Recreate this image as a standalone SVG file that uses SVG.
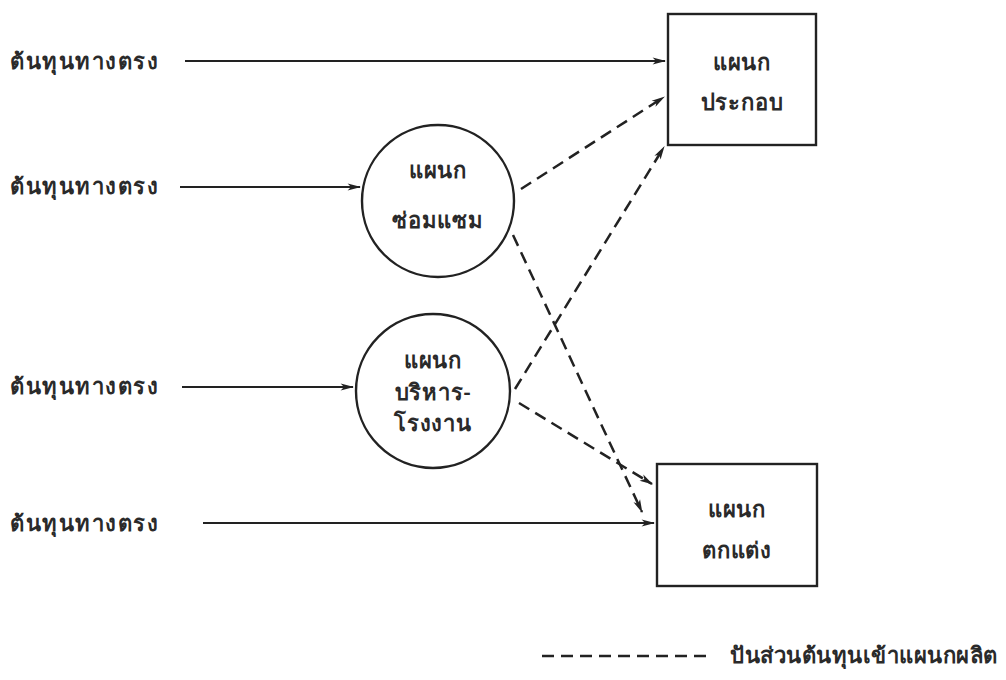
<svg xmlns="http://www.w3.org/2000/svg" width="1006" height="680" viewBox="0 0 1006 680">
  <style>
    .lbl { font-family: "Noto Sans", "Liberation Sans", sans-serif; font-size: 22px; font-weight: bold; letter-spacing: 1.5px; fill: #2a2a2a; }
    .legend-text { font-family: "Noto Sans", "Liberation Sans", sans-serif; font-size: 22px; font-weight: bold; letter-spacing: 0.5px; fill: #2a2a2a; }
    .node-text { font-family: "Noto Sans", "Liberation Sans", sans-serif; font-size: 22px; font-weight: 600; fill: #2a2a2a; text-anchor: middle; letter-spacing: 0.8px; }
    .shape { fill: none; stroke: #222; stroke-width: 2.4; }
    .solid { stroke: #222; stroke-width: 2.2; fill: none; }
    .dash { stroke: #222; stroke-width: 2.5; fill: none; stroke-dasharray: 12 7; }
  </style>
  <defs>
    <marker id="arrow" viewBox="0 0 12 8" refX="11" refY="4" markerWidth="14" markerHeight="9" markerUnits="userSpaceOnUse" orient="auto">
      <path d="M0,0.8 L12,4 L0,7.2 L3,4 Z" fill="#222"/>
    </marker>
  </defs>

  <rect width="1006" height="680" fill="#ffffff"/>

  <!-- direct cost labels -->
  <g id="labels">
    <text class="lbl" x="10" y="69">ต้นทุนทางตรง</text>
    <text class="lbl" x="10" y="194">ต้นทุนทางตรง</text>
    <text class="lbl" x="10" y="394">ต้นทุนทางตรง</text>
    <text class="lbl" x="10" y="531">ต้นทุนทางตรง</text>
  </g>

  <g id="node-assembly">
    <rect class="shape" x="668" y="14" width="148" height="131"/>
    <text class="node-text" x="742" y="70">แผนก</text>
    <text class="node-text" x="742" y="110">ประกอบ</text>
  </g>

  <g id="node-repair">
    <circle class="shape" cx="438" cy="201" r="76"/>
    <text class="node-text" x="438" y="178">แผนก</text>
    <text class="node-text" x="438" y="228">ซ่อมแซม</text>
  </g>

  <g id="node-factory-admin">
    <circle class="shape" cx="433" cy="391" r="77"/>
    <text class="node-text" x="433" y="368">แผนก</text>
    <text class="node-text" x="433" y="400">บริหาร-</text>
    <text class="node-text" x="433" y="431">โรงงาน</text>
  </g>

  <g id="node-finishing">
    <rect class="shape" x="657" y="464" width="160" height="122"/>
    <text class="node-text" x="737" y="517">แผนก</text>
    <text class="node-text" x="737" y="558">ตกแต่ง</text>
  </g>

  <g id="connectors">
    <!-- direct costs -->
    <line class="solid" x1="185" y1="61" x2="665" y2="61" marker-end="url(#arrow)"/>
    <line class="solid" x1="180" y1="187" x2="360" y2="187" marker-end="url(#arrow)"/>
    <line class="solid" x1="182" y1="387" x2="353" y2="387" marker-end="url(#arrow)"/>
    <line class="solid" x1="203" y1="523" x2="654" y2="523" marker-end="url(#arrow)"/>
    <!-- allocations -->
    <line class="dash" x1="521" y1="189" x2="664" y2="97" marker-end="url(#arrow)"/>
    <line class="dash" x1="513" y1="235" x2="642" y2="512" marker-end="url(#arrow)"/>
    <line class="dash" x1="515" y1="389" x2="664" y2="147" marker-end="url(#arrow)"/>
    <line class="dash" x1="519" y1="403" x2="652" y2="484" marker-end="url(#arrow)"/>
  </g>

  <g id="legend">
    <line class="dash" x1="542" y1="656" x2="710" y2="656" stroke-dasharray="15 7"/>
    <text class="legend-text" x="730" y="663">ปันส่วนต้นทุนเข้าแผนกผลิต</text>
  </g>
</svg>
